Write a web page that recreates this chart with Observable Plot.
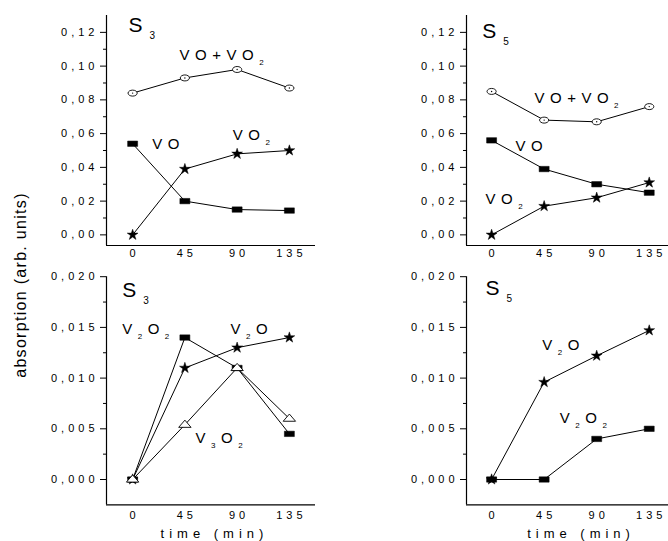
<!DOCTYPE html>
<html><head><meta charset="utf-8">
<script src="https://cdn.jsdelivr.net/npm/d3@7"></script>
<script src="https://cdn.jsdelivr.net/npm/@observablehq/plot@0.6"></script>
<style>
body{margin:0;background:#fff;}
#root{position:relative;width:668px;height:541px;overflow:hidden;font-family:"Liberation Sans",Arial,sans-serif;background:#fff;}
#ylabel{position:absolute;left:21px;top:285px;transform:translate(-50%,-50%) rotate(-90deg);white-space:nowrap;font-size:16px;letter-spacing:1.3px;color:#000;}
</style></head><body><div id="root"><div id="ylabel">absorption (arb. units)</div></div>
<script>
// ---- data ----
const times = [0, 45, 90, 135];
const xTicks = [0, 45, 90, 135];
const yTicksTop = [0, 0.02, 0.04, 0.06, 0.08, 0.10, 0.12];
const yMinorTop = [0.01, 0.03, 0.05, 0.07, 0.09, 0.11];
const yTicksBottom = [0, 0.005, 0.010, 0.015, 0.020];
const yMinorBottom = [0.0025, 0.0075, 0.0125, 0.0175];

// S3, upper panel
const s3_VO_VO2 = [0.084, 0.093, 0.098, 0.087];
const s3_VO     = [0.054, 0.020, 0.015, 0.0144];
const s3_VO2    = [0.000, 0.039, 0.048, 0.050];
// S5, upper panel
const s5_VO_VO2 = [0.085, 0.068, 0.067, 0.076];
const s5_VO     = [0.056, 0.039, 0.030, 0.025];
const s5_VO2    = [0.000, 0.017, 0.022, 0.031];
// S3, lower panel
const s3_V2O2 = [0, 0.014, 0.011, 0.0045];
const s3_V2O  = [0, 0.011, 0.013, 0.014];
const s3_V3O2 = [0, 0.0054, 0.011, 0.006];
// S5, lower panel
const s5_V2O  = [0, 0.0096, 0.0122, 0.0147];
const s5_V2O2 = [0, 0, 0.004, 0.005];

// annotations (data coordinates: time, absorption)
const titlesTL = [{t: -3.5, v: 0.1205, text: "S{3}"}];
const labelsTL = [{t: 40.4, v: 0.1038, text: "VO+VO{2}"}, {t: 16.9, v: 0.0506, text: "VO"}, {t: 86.3, v: 0.0564, text: "VO{2}"}];
const titlesTR = [{t: -8.1, v: 0.1166, text: "S{5}"}];
const labelsTR = [{t: 36.7, v: 0.078, text: "VO+VO{2}"}, {t: 20.5, v: 0.0496, text: "VO"}, {t: -5.2, v: 0.018, text: "VO{2}"}];
const titlesBL = [{t: -9, v: 0.0180, text: "S{3}"}];
const labelsBL = [{t: -9, v: 0.01437, text: "V{2}O{2}"}, {t: 84.3, v: 0.01437, text: "V{2}O"}, {t: 54.2, v: 0.00358, text: "V{3}O{2}"}];
const titlesBR = [{t: -5.2, v: 0.01824, text: "S{5}"}];
const labelsBR = [{t: 43.3, v: 0.01279, text: "V{2}O"}, {t: 58.4, v: 0.00555, text: "V{2}O{2}"}];
const xAxisTitle = "time (min)";

// ---- symbols ----
const ellipseSym = {draw(c) {
  const rx = 4.6, ry = 3, k = 0.5523;
  c.moveTo(rx, 0);
  c.bezierCurveTo(rx, ry * k, rx * k, ry, 0, ry);
  c.bezierCurveTo(-rx * k, ry, -rx, ry * k, -rx, 0);
  c.bezierCurveTo(-rx, -ry * k, -rx * k, -ry, 0, -ry);
  c.bezierCurveTo(rx * k, -ry, rx, -ry * k, rx, 0);
  c.closePath();
}};
const rectSym = {draw(c) { c.rect(-5, -2.7, 10, 5.4); }};
const starSym = {draw(c) { d3.symbolStar.draw(c, 36); }};
const triSym = {draw(c) { c.moveTo(0, -4.6); c.lineTo(6.2, 2.6); c.lineTo(-6.2, 2.6); c.closePath(); }};

const series = (values) => times.map((t, i) => ({t, v: values[i]}));

function rich(svg, tag, spacing, subSize, shift) {
  svg.querySelectorAll(`g[aria-description="${tag}"] text`).forEach(el => {
    const s = el.textContent;
    el.textContent = "";
    el.style.letterSpacing = spacing + "px";
    const re = /([^{]+)|\{([^}]*)\}/g;
    let m, down = false;
    while ((m = re.exec(s))) {
      const ts = document.createElementNS("http://www.w3.org/2000/svg", "tspan");
      if (m[2] !== undefined) {
        ts.textContent = m[2];
        ts.setAttribute("font-size", subSize);
        ts.setAttribute("dy", shift);
        down = true;
      } else {
        ts.textContent = m[1];
        if (down) { ts.setAttribute("dy", -shift); down = false; }
      }
      el.appendChild(ts);
    }
  });
}

function panel(o) {
  const marks = [
    Plot.ruleY([o.yDomain[0]], {stroke: "black", strokeWidth: 1.2}),
    Plot.ruleX([o.xDomain[0]], {stroke: "black", strokeWidth: 1.2}),
    Plot.axisY({ticks: o.yTicks, tickSize: 6, tickPadding: 2, tickFormat: o.fmt, label: null, fontSize: 11}),
    Plot.axisY({ticks: o.yMinor, tickSize: 3, tickFormat: () => "", label: null}),
    Plot.axisX({ticks: xTicks, tickSize: 0, tickPadding: o.xPad, label: null, fontSize: 11, dx: 2}),
  ];
  for (const s of o.series) {
    marks.push(Plot.line(s.data, {x: "t", y: "v", stroke: "black", strokeWidth: 1}));
  }
  for (const s of o.series) {
    marks.push(Plot.dot(s.data, {x: "t", y: "v", symbol: s.sym, r: 4, fill: s.fill, stroke: "black", strokeWidth: s.fill === "white" ? 0.9 : 0.5}));
    if (s.center) marks.push(Plot.dot(s.data, {x: "t", y: "v", r: 0.7, fill: "black"}));
  }
  marks.push(Plot.text(o.titles, {x: "t", y: "v", text: "text", textAnchor: "start", lineAnchor: "bottom", fontSize: 21, ariaDescription: "ptitle"}));
  marks.push(Plot.text(o.labels, {x: "t", y: "v", text: "text", textAnchor: "start", lineAnchor: "bottom", fontSize: 15, ariaDescription: "plabel"}));
  if (o.xTitleT !== undefined) {
    marks.push(Plot.text([xAxisTitle], {x: () => o.xTitleT, frameAnchor: "bottom", text: d => d, lineAnchor: "bottom", dy: 33, fontSize: 13, ariaDescription: "xtitle"}));
  }
  const svg = Plot.plot({
    width: o.width, height: o.height,
    marginLeft: o.ml, marginRight: o.mr, marginTop: o.mt, marginBottom: o.mb,
    x: {domain: o.xDomain, label: null},
    y: {domain: o.yDomain, label: null},
    style: `position:absolute;left:${o.left}px;top:${o.top}px;overflow:visible;background:transparent;font-family:'Liberation Sans',Arial,sans-serif;font-size:11px;letter-spacing:4px;color:black;max-width:none;`,
    marks
  });
  rich(svg, "ptitle", 7, 10, 7);
  rich(svg, "plabel", 5.5, 8, 5);
  rich(svg, "xtitle", 5, 13, 0);
  document.getElementById("root").appendChild(svg);
}

const fmt2 = d => d.toFixed(2).replace(".", ",");
const fmt3 = d => d.toFixed(3).replace(".", ",");

panel({left: 0, top: 0, width: 334, height: 270, ml: 106, mr: 19, mt: 15, mb: 25,
  xDomain: [-22.5, 157.5], yDomain: [-0.0063, 0.13], yTicks: yTicksTop, yMinor: yMinorTop, fmt: fmt2, xPad: 3.5,
  series: [
    {data: series(s3_VO_VO2), sym: ellipseSym, fill: "white", center: true},
    {data: series(s3_VO), sym: rectSym, fill: "black"},
    {data: series(s3_VO2), sym: starSym, fill: "black"}
  ], titles: titlesTL, labels: labelsTL});

panel({left: 334, top: 0, width: 334, height: 270, ml: 132, mr: 0, mt: 15, mb: 25,
  xDomain: [-21.5, 151.5], yDomain: [-0.0063, 0.13], yTicks: yTicksTop, yMinor: yMinorTop, fmt: fmt2, xPad: 3.5,
  series: [
    {data: series(s5_VO_VO2), sym: ellipseSym, fill: "white", center: true},
    {data: series(s5_VO), sym: rectSym, fill: "black"},
    {data: series(s5_VO2), sym: starSym, fill: "black"}
  ], titles: titlesTR, labels: labelsTR});

panel({left: 0, top: 270, width: 334, height: 271, ml: 106, mr: 19, mt: 6.2, mb: 36.65,
  xDomain: [-22.5, 157.5], yDomain: [-0.0025, 0.020], yTicks: yTicksBottom, yMinor: yMinorBottom, fmt: fmt3, xPad: 6.4,
  series: [
    {data: series(s3_V2O2), sym: rectSym, fill: "black"},
    {data: series(s3_V2O), sym: starSym, fill: "black"},
    {data: series(s3_V3O2), sym: triSym, fill: "white"}
  ], titles: titlesBL, labels: labelsBL, xTitleT: 70.5});

panel({left: 334, top: 270, width: 334, height: 271, ml: 132, mr: 0, mt: 6.2, mb: 36.65,
  xDomain: [-21.5, 151.5], yDomain: [-0.0025, 0.020], yTicks: yTicksBottom, yMinor: yMinorBottom, fmt: fmt3, xPad: 6.4,
  series: [
    {data: series(s5_V2O), sym: starSym, fill: "black"},
    {data: series(s5_V2O2), sym: rectSym, fill: "black"}
  ], titles: titlesBR, labels: labelsBR, xTitleT: 76.6});
</script></body></html>
